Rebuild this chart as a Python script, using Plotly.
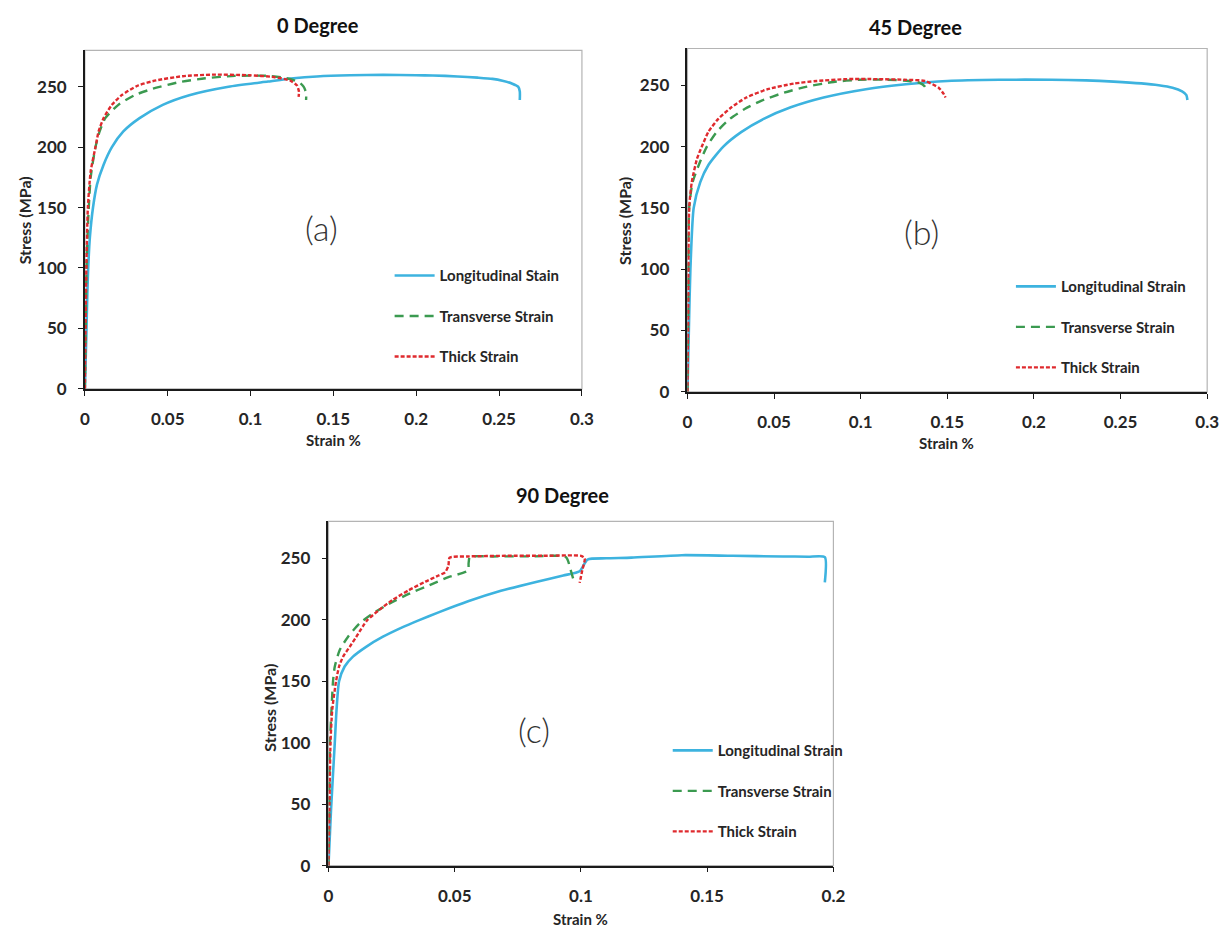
import plotly.graph_objects as go

# ---------------- data ----------------
# (a) 0 Degree
a_long_x = [0, 0.0008, 0.0015, 0.002, 0.003, 0.0049, 0.0073, 0.0113, 0.0163, 0.0232, 0.033, 0.047, 0.063, 0.0867, 0.1105, 0.126, 0.14, 0.16, 0.18, 0.2, 0.21, 0.225, 0.237, 0.246, 0.252, 0.258, 0.2615, 0.2625, 0.2625]
a_long_y = [0, 40, 80, 100, 125, 150, 169, 185.5, 200, 213, 224, 235, 243, 250, 254.3, 257, 258.5, 259.5, 259.8, 259.5, 259.3, 258.5, 257.5, 256.5, 255, 252.5, 250, 246, 239]
a_trans_x = [0, 0.0005, 0.001, 0.002, 0.0035, 0.0064, 0.0089, 0.0123, 0.0202, 0.030, 0.041, 0.057, 0.0727, 0.0905, 0.11, 0.12, 0.126, 0.13, 0.132, 0.1335, 0.1335]
a_trans_y = [0, 50, 100, 140, 175, 200, 213, 224, 235, 243, 248.3, 253.8, 257, 259, 259, 257.5, 255.5, 253, 250, 245, 239]
a_thick_x = [0, 0.0004, 0.0009, 0.0018, 0.0035, 0.0064, 0.0083, 0.0113, 0.0163, 0.0222, 0.0321, 0.043, 0.059, 0.077, 0.099, 0.114, 0.124, 0.128, 0.1292, 0.129]
a_thick_y = [0, 50, 100, 150, 180, 200, 213, 224, 235, 243, 251, 255.2, 258.7, 260, 259.5, 258, 255, 251, 246, 241.5]

# (b) 45 Degree
b_long_x = [0, 0.0008, 0.0017, 0.0036, 0.0074, 0.0121, 0.0207, 0.031, 0.044, 0.0596, 0.0786, 0.103, 0.126, 0.15, 0.18, 0.21, 0.23, 0.246, 0.262, 0.272, 0.28, 0.2855, 0.288, 0.2886]
b_long_y = [0, 50, 100, 150, 171, 185, 200, 211.8, 222.6, 232, 240, 246.8, 250.8, 253.5, 254.5, 254.5, 254, 253, 251.5, 250, 248, 245, 242, 238]
b_trans_x = [0, 0.0004, 0.001, 0.003, 0.0074, 0.0112, 0.0169, 0.0245, 0.033, 0.0425, 0.0558, 0.069, 0.0843, 0.099, 0.115, 0.128, 0.134, 0.137, 0.138]
b_trans_y = [0, 60, 150, 171, 188, 200, 212, 222.6, 230.6, 237.3, 244, 248.9, 252.7, 254.5, 254.5, 253.5, 252, 249, 245]
b_thick_x = [0, 0.0004, 0.001, 0.0025, 0.0055, 0.0083, 0.0121, 0.0178, 0.0254, 0.034, 0.0463, 0.0615, 0.0747, 0.0918, 0.11, 0.125, 0.137, 0.145, 0.148, 0.149]
b_thick_y = [0, 60, 150, 171, 190, 200, 212, 222.6, 232, 240, 246.8, 251.4, 253.5, 255, 255, 254.5, 253.5, 248, 242.7, 240]

# (c) 90 Degree
c_long_x = [0, 0.001, 0.0025, 0.0032, 0.0042, 0.0064, 0.0097, 0.0149, 0.0214, 0.0292, 0.0357, 0.0436, 0.0553, 0.0683, 0.0826, 0.093, 0.0995, 0.1026, 0.11, 0.12, 0.14, 0.16, 0.18, 0.19, 0.1966, 0.1966]
c_long_y = [0, 45, 100, 127, 150, 162, 170, 178, 186, 193.8, 199.5, 206, 215, 223.5, 231, 236, 239.5, 249, 250, 250.5, 252.5, 252, 251.5, 251.3, 251, 230.5]
c_trans_x = [0, 0.0003, 0.0006, 0.0012, 0.0018, 0.0025, 0.0045, 0.0077, 0.0123, 0.0175, 0.024, 0.0318, 0.041, 0.0475, 0.0553, 0.0555, 0.056, 0.065, 0.08, 0.094, 0.096, 0.0975]
c_trans_y = [0, 50, 100, 127, 150, 162, 175.6, 186, 197, 205, 213, 221, 229, 234.7, 240, 246, 251, 251.5, 251.5, 251, 240, 229]
c_thick_x = [0, 0.0004, 0.0008, 0.0015, 0.003, 0.0042, 0.0058, 0.0084, 0.011, 0.0136, 0.0155, 0.0201, 0.0253, 0.0318, 0.0384, 0.0436, 0.0462, 0.0475, 0.048, 0.055, 0.07, 0.085, 0.1, 0.1015, 0.1005, 0.0995]
c_thick_y = [0, 50, 100, 127, 150, 162, 170, 178, 186, 194.6, 200, 208, 216, 224, 231, 236, 238.6, 244, 250.5, 251.5, 252, 252, 252, 250, 240, 230]

names_a = ["Longitudinal Stain", "Transverse Strain", "Thick Strain"]
names_bc = ["Longitudinal Strain", "Transverse Strain", "Thick Strain"]
panel_titles = ["0 Degree", "45 Degree", "90 Degree"]
panel_labels = ["(a)", "(b)", "(c)"]
x_ticks_ab = [0, 0.05, 0.1, 0.15, 0.2, 0.25, 0.3]
x_ticks_c = [0, 0.05, 0.1, 0.15, 0.2]
y_ticks = [0, 50, 100, 150, 200, 250]

# ---------------- style ----------------
W, H = 1232, 939
BLUE = "#3db3df"
GREEN = "#3b9a50"
RED = "#df2a2e"
styles = [dict(color=BLUE, width=2.6, dash="solid", shape="spline", smoothing=0.6),
          dict(color=GREEN, width=2.4, dash="9px,6px", shape="spline", smoothing=0.6),
          dict(color=RED, width=2.4, dash="4px,2px", shape="spline", smoothing=0.6)]
FONT = "Lato"
TXT = "#262626"


def px(x):
    return x / W


def py(y):
    return 1 - y / H


# plot boxes in pixels: left, right, top, bottom
boxes = [(81, 585, 51, 393), (692, 1219, 49, 396), (328, 840, 527, 875)]

data = [
    [(a_long_x, a_long_y), (a_trans_x, a_trans_y), (a_thick_x, a_thick_y)],
    [(b_long_x, b_long_y), (b_trans_x, b_trans_y), (b_thick_x, b_thick_y)],
    [(c_long_x, c_long_y), (c_trans_x, c_trans_y), (c_thick_x, c_thick_y)],
]
names_per_panel = [names_a, names_bc, names_bc]
legend_ids = ["legend", "legend2", "legend3"]

fig = go.Figure()
for p in range(3):
    xa = "x" if p == 0 else f"x{p+1}"
    ya = "y" if p == 0 else f"y{p+1}"
    for s in range(3):
        xs, ys = data[p][s]
        fig.add_trace(go.Scatter(
            x=xs, y=ys, mode="lines", name=names_per_panel[p][s],
            line=styles[s], xaxis=xa, yaxis=ya,
            legend=legend_ids[p], legendgroup=f"g{p}{s}",
        ))

tickfont = dict(family=FONT, size=17, color=TXT, weight="bold")

layout = dict(width=W, height=H, margin=dict(l=0, r=0, t=0, b=0),
              paper_bgcolor="white", plot_bgcolor="white", showlegend=True)

xranges = [[0, 0.3], [0, 0.3], [0, 0.2]]
xticks = [x_ticks_ab, x_ticks_ab, x_ticks_c]
for p, (l, r, t, b) in enumerate(boxes):
    xk = "xaxis" if p == 0 else f"xaxis{p+1}"
    yk = "yaxis" if p == 0 else f"yaxis{p+1}"
    ya = "y" if p == 0 else f"y{p+1}"
    xa = "x" if p == 0 else f"x{p+1}"
    layout[xk] = dict(domain=[px(l), px(r)], range=xranges[p], anchor=ya,
                      tickvals=xticks[p], ticktext=[f"{v:g}" for v in xticks[p]],
                      showgrid=False, zeroline=False, showline=True, linecolor="#1a1a1a",
                      linewidth=1.6, ticks="outside", ticklen=5, tickcolor="#1a1a1a",
                      tickwidth=1.3, tickfont=tickfont, ticklabelstandoff=9)
    layout[yk] = dict(domain=[py(b), py(t)], range=[0, 280], anchor=xa,
                      tickvals=y_ticks, showgrid=False, zeroline=False, showline=True,
                      linecolor="#1a1a1a", linewidth=1.6, ticks="outside", ticklen=5,
                      tickcolor="#1a1a1a", tickwidth=1.3, tickfont=tickfont,
                      ticklabelstandoff=8)

fig.update_layout(**layout)

# light gray box border (top/right)
for p, (l, r, t, b) in enumerate(boxes):
    fig.add_shape(type="rect", xref="paper", yref="paper",
                  x0=px(l), x1=px(r), y0=py(b), y1=py(t),
                  line=dict(color="#b4b4b4", width=1.2), layer="below")

# legends
legend_pos = [(390, 262), (1020, 273), (672, 742)]
for p, (lx, ly) in enumerate(legend_pos):
    key = "legend" if p == 0 else f"legend{p+1}"
    fig.update_layout(**{key: dict(x=px(lx), y=py(ly), xanchor="left", yanchor="top",
                                   bgcolor="rgba(0,0,0,0)", tracegroupgap=18,
                                   font=dict(family=FONT, size=15, color=TXT, weight="bold"),
                                   itemwidth=40)})

# titles, axis titles, panel labels
title_pos = [(317, 25), (923, 27), (565, 500)]
xlabel_pos = [(333, 445), (955, 448), (584, 929)]
ylabel_pos = [(20, 223), (628, 223), (268, 715)]
plabel_pos = [(321, 230), (929, 234), (536, 737)]


def note(text, pos, font, angle=0):
    fig.add_annotation(text=text, xref="paper", yref="paper",
                       x=px(pos[0]), y=py(pos[1]), xanchor="center", yanchor="middle",
                       showarrow=False, textangle=angle, font=font)


for p in range(3):
    note(panel_titles[p], title_pos[p], dict(family=FONT, size=20, color="#111", weight="bold"))
    note("Strain %", xlabel_pos[p], dict(family=FONT, size=15, color=TXT, weight="bold"))
    note("Stress (MPa)", ylabel_pos[p], dict(family=FONT, size=16, color=TXT, weight="bold"), -90)
    note(panel_labels[p], plabel_pos[p], dict(family=FONT, size=34, color="#333", weight=300))

fig.write_html("out.html")
